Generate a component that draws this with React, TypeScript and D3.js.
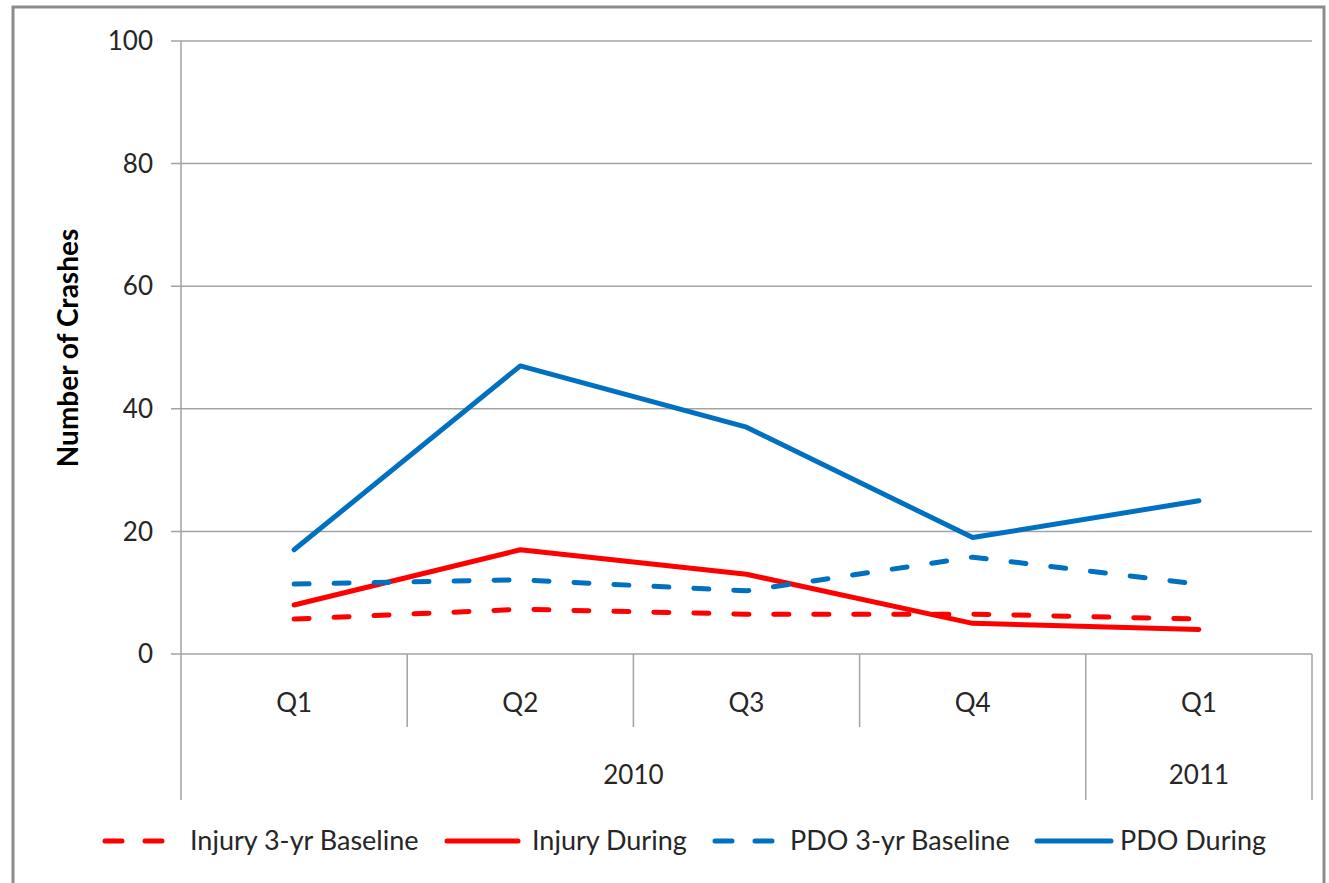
import React from "react";
import * as d3 from "d3";

const quarters = ["Q1", "Q2", "Q3", "Q4", "Q1"];
const years = [
  { label: "2010", start: 0, end: 4 },
  { label: "2011", start: 4, end: 5 },
];
const injuryBaseline = [5.7, 7.3, 6.5, 6.5, 5.7];
const injuryDuring = [8, 17, 13, 5, 4];
const pdoBaseline = [11.4, 12.1, 10.3, 15.8, 11.4];
const pdoDuring = [17, 47, 37, 19, 25];
const yTicks = [0, 20, 40, 60, 80, 100];

const RED = "#FF0000";
const BLUE = "#0070C0";
const GRID = "#a3a3a3";
const TEXT = "#262626";
const FONT = "Lato, 'Noto Sans', sans-serif";

const series = [
  { name: "Injury 3-yr Baseline", values: injuryBaseline, color: RED, dashed: true },
  { name: "Injury During", values: injuryDuring, color: RED, dashed: false },
  { name: "PDO 3-yr Baseline", values: pdoBaseline, color: BLUE, dashed: true },
  { name: "PDO During", values: pdoDuring, color: BLUE, dashed: false },
];

const legendPos = [
  { lx0: 103, lx1: 164, tx: 190 },
  { lx0: 445, lx1: 520, tx: 532 },
  { lx0: 713, lx1: 775, tx: 790 },
  { lx0: 1035, lx1: 1113, tx: 1120 },
];

export default function App() {
  const W = 1329;
  const H = 883;
  const left = 181;
  const right = 1312;
  const top = 41;
  const bottom = 654;

  const x = d3
    .scaleBand<number>()
    .domain(d3.range(quarters.length))
    .range([left, right])
    .paddingInner(0)
    .paddingOuter(0);
  const bw = x.bandwidth();
  const cx = (i: number) => (x(i) as number) + bw / 2;
  const y = d3.scaleLinear().domain([0, 100]).range([bottom, top]);

  const line = d3
    .line<number>()
    .x((_, i) => cx(i))
    .y((d) => y(d));

  const dash = "15 25";

  return (
    <svg
      width={W}
      height={H}
      style={{ position: "absolute", left: 0, top: 0, background: "#fff" }}
      fontFamily={FONT}
    >
      <rect x={0} y={0} width={W} height={H} fill="#fff" />
      <rect x={13} y={7} width={1311} height={880} fill="none" stroke="#8c8c8c" strokeWidth={3} />

      {yTicks.map((t) => (
        <g key={t}>
          <line x1={171} x2={right} y1={y(t)} y2={y(t)} stroke={GRID} strokeWidth={1.5} />
          <text x={153} y={y(t)} dy="0.35em" textAnchor="end" fontSize={26} fill={TEXT}>
            {t}
          </text>
        </g>
      ))}
      <line x1={left} x2={left} y1={top} y2={800} stroke={GRID} strokeWidth={1.5} />
      {d3.range(1, quarters.length + 1).map((i) => {
        const xx = i === quarters.length ? right : (x(i) as number);
        const isYear = years.some((yr) => yr.end === i || yr.start === i);
        return (
          <line
            key={i}
            x1={xx}
            x2={xx}
            y1={bottom}
            y2={isYear ? 800 : 727}
            stroke={GRID}
            strokeWidth={1.5}
          />
        );
      })}
      {quarters.map((q, i) => (
        <text key={i} x={cx(i)} y={712} textAnchor="middle" fontSize={26} fill={TEXT}>
          {q}
        </text>
      ))}
      {years.map((yr) => {
        const x0 = x(yr.start) as number;
        const x1 = yr.end === quarters.length ? right : (x(yr.end) as number);
        return (
          <text key={yr.label} x={(x0 + x1) / 2} y={784} textAnchor="middle" fontSize={26} fill={TEXT}>
            {yr.label}
          </text>
        );
      })}

      <text
        transform={`translate(78,${348}) rotate(-90)`}
        textAnchor="middle"
        fontSize={28}
        fontWeight="bold"
        fill="#000"
      >
        Number of Crashes
      </text>

      {series.map((s) => (
        <path
          key={s.name}
          d={line(s.values) as string}
          fill="none"
          stroke={s.color}
          strokeWidth={5}
          strokeLinecap="round"
          strokeLinejoin="round"
          strokeDasharray={s.dashed ? dash : undefined}
        />
      ))}

      {series.map((s, i) => {
        const p = legendPos[i];
        return (
          <g key={s.name}>
            <line
              x1={p.lx0 + 2}
              x2={p.lx1 - 2}
              y1={841}
              y2={841}
              stroke={s.color}
              strokeWidth={5}
              strokeLinecap="round"
              strokeDasharray={s.dashed ? "17 23" : undefined}
            />
            <text x={p.tx} y={841} dy="0.35em" fontSize={27} fill={TEXT}>
              {s.name}
            </text>
          </g>
        );
      })}
    </svg>
  );
}
